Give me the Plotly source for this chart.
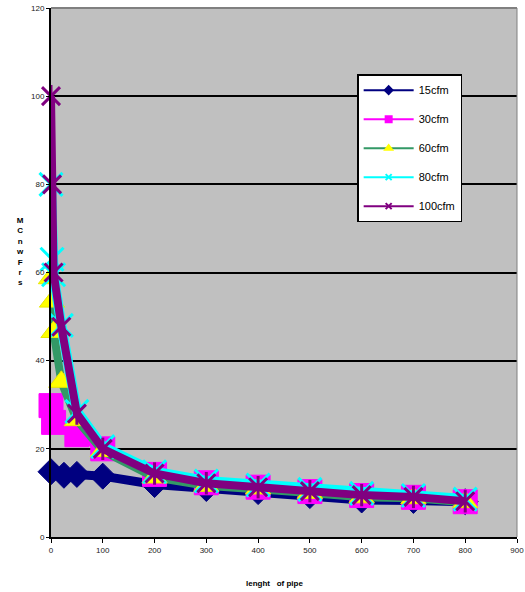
import plotly.graph_objects as go

# ---- data ----
x15 = [0, 25, 50, 100, 200, 300, 400, 500, 600, 700, 800]
y15 = [14.8, 14.0, 14.2, 13.8, 11.9, 11.0, 10.3, 9.4, 8.4, 8.3, 8.0]

x30 = [0, 5, 50, 100, 200, 300, 400, 500, 600, 700, 800]
y30 = [29.8, 26.0, 23.2, 20.0, 14.2, 12.3, 11.3, 10.3, 9.4, 9.0, 8.0]

x60 = [0, 2, 5, 20, 50, 100, 200, 300, 400, 500, 600, 700, 800]
y60 = [58.7, 53.4, 46.5, 35.2, 26.5, 19.5, 13.5, 11.6, 11.0, 10.0, 9.0, 8.8, 7.9]

x80 = [0, 2, 5, 20, 50, 100, 200, 300, 400, 500, 600, 700, 800]
y80 = [80, 63, 59.5, 48, 28.5, 20.5, 14.8, 12.7, 11.8, 10.8, 9.9, 9.4, 8.6]

x100 = [0, 2, 5, 20, 50, 100, 200, 300, 400, 500, 600, 700, 800]
y100 = [100, 80, 60, 47.7, 28, 20, 14.4, 12.2, 11.3, 10.4, 9.5, 9.1, 8.1]

names = ["15cfm", "30cfm", "60cfm", "80cfm", "100cfm"]
x_ticks = [0, 100, 200, 300, 400, 500, 600, 700, 800, 900]
y_ticks = [0, 20, 40, 60, 80, 100, 120]

NAVY = "#000080"
MAG = "#FF00FF"
GREEN = "#339966"
YEL = "#FFFF00"
CYAN = "#00FFFF"
PURP = "#800080"

fig = go.Figure()

# 15cfm
fig.add_trace(go.Scatter(x=x15, y=y15, mode="lines+markers", showlegend=False,
                         cliponaxis=False,
                         line=dict(color=NAVY, width=9),
                         marker=dict(symbol="diamond", size=20, color=NAVY,
                                     line=dict(color=NAVY, width=1))))
# 30cfm
fig.add_trace(go.Scatter(x=x30, y=y30, mode="lines+markers", showlegend=False,
                         cliponaxis=False,
                         line=dict(color=MAG, width=8),
                         marker=dict(symbol="square", size=24, color=MAG,
                                     line=dict(color=MAG, width=1))))
# 60cfm
fig.add_trace(go.Scatter(x=x60, y=y60, mode="lines+markers", showlegend=False,
                         cliponaxis=False,
                         line=dict(color=GREEN, width=8),
                         marker=dict(symbol="triangle-up", size=22, color=YEL,
                                     line=dict(color="#E8E800", width=1))))
# 80cfm
fig.add_trace(go.Scatter(x=x80, y=y80, mode="lines+markers", showlegend=False,
                         cliponaxis=False,
                         line=dict(color=CYAN, width=10),
                         marker=dict(symbol="x-thin", size=23, color=CYAN,
                                     line=dict(color=CYAN, width=3))))
# 100cfm (star = x + vertical bar)
fig.add_trace(go.Scatter(x=x100, y=y100, mode="lines+markers", showlegend=False,
                         cliponaxis=False,
                         line=dict(color=PURP, width=8),
                         marker=dict(symbol="x-thin", size=18, color=PURP,
                                     line=dict(color=PURP, width=3))))
fig.add_trace(go.Scatter(x=x100, y=y100, mode="markers", showlegend=False,
                         cliponaxis=False,
                         marker=dict(symbol="line-ns", size=16, color=PURP,
                                     line=dict(color=PURP, width=3))))

# legend entries
leg_styles = [
    (NAVY, NAVY, "diamond"),
    (MAG, MAG, "square"),
    (GREEN, YEL, "triangle-up"),
    (CYAN, CYAN, "x-thin"),
    (PURP, PURP, "x-thin"),
]
for nm, (lc, mc, sym) in zip(names, leg_styles):
    fig.add_trace(go.Scatter(x=[None], y=[None], mode="lines+markers", name=nm,
                             legendgroup=nm,
                             line=dict(color=lc, width=2),
                             marker=dict(symbol=sym, size=6, color=mc,
                                         line=dict(color=mc, width=2))))

fig.update_layout(
    width=525, height=592,
    margin=dict(l=51, r=8, t=8, b=55, autoexpand=False),
    paper_bgcolor="white",
    plot_bgcolor="#C0C0C0",
    font=dict(family="Arial, Liberation Sans, sans-serif", color="#222222"),
    xaxis=dict(range=[0, 900], tickvals=x_ticks, ticktext=[str(v) for v in x_ticks],
               showgrid=False, zeroline=False, showline=True, linecolor="black",
               linewidth=2, ticks="outside", ticklen=4, tickcolor="black",
               tickwidth=1, tickfont=dict(size=8), automargin=False),
    yaxis=dict(range=[0, 120], tickvals=y_ticks, ticktext=[str(v) for v in y_ticks],
               showgrid=True, gridcolor="black", gridwidth=2, zeroline=False,
               showline=True, linecolor="black", linewidth=2, ticks="outside",
               ticklen=3, tickcolor="black", tickwidth=1, tickfont=dict(size=8),
               automargin=False),
    legend=dict(x=0.657, y=0.875, xanchor="left", yanchor="top",
                bgcolor="white", bordercolor="black", borderwidth=1.5,
                font=dict(size=11, color="black"), tracegroupgap=10,
                itemwidth=50),
    shapes=[
        dict(type="line", xref="paper", yref="paper", x0=0, x1=1, y0=1, y1=1,
             line=dict(color="#808080", width=2)),
        dict(type="line", xref="paper", yref="paper", x0=1, x1=1, y0=0, y1=1,
             line=dict(color="#808080", width=1)),
    ],
    annotations=[
        dict(text="<b>lenght   of pipe</b>", xref="paper", yref="paper", x=0.48, y=0,
             yshift=-46, showarrow=False, font=dict(size=8, color="black"),
             yanchor="middle"),
        dict(text="<b>M<br>C<br>n<br>w<br>F<br>r<br>s</b>", xref="paper", yref="paper",
             x=0, xshift=-37, y=0.54, showarrow=False,
             font=dict(size=8, color="black"), yanchor="middle"),
    ],
)

fig.write_html("out.html", config={"displayModeBar": False},
               post_script="document.body.style.margin='0';document.body.style.overflow='hidden';")
